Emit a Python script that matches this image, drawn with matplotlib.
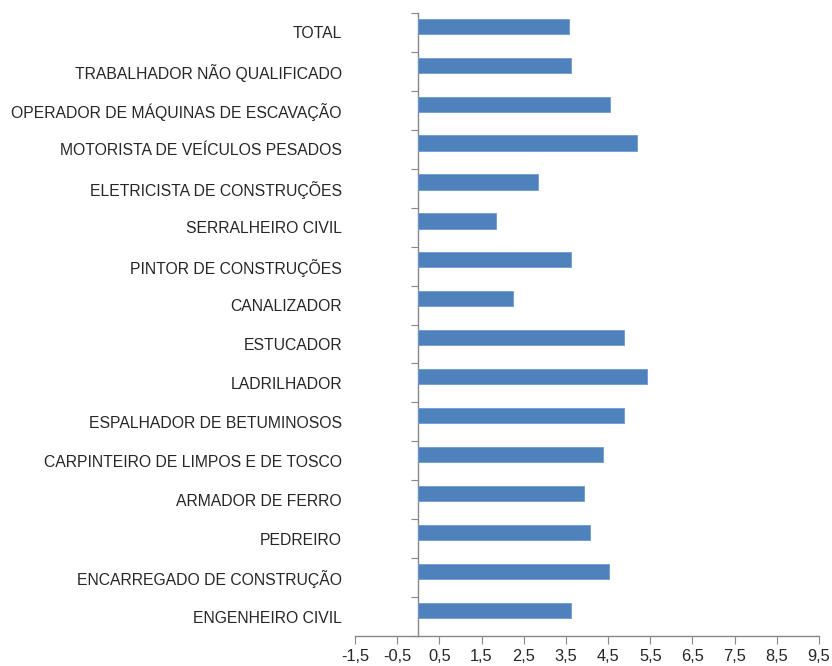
import matplotlib
matplotlib.use("Agg")
import matplotlib.pyplot as plt
import numpy as np

categories = [
    "TOTAL",
    "TRABALHADOR NÃO QUALIFICADO",
    "OPERADOR DE MÁQUINAS DE ESCAVAÇÃO",
    "MOTORISTA DE VEÍCULOS PESADOS",
    "ELETRICISTA DE CONSTRUÇÕES",
    "SERRALHEIRO CIVIL",
    "PINTOR DE CONSTRUÇÕES",
    "CANALIZADOR",
    "ESTUCADOR",
    "LADRILHADOR",
    "ESPALHADOR DE BETUMINOSOS",
    "CARPINTEIRO DE LIMPOS E DE TOSCO",
    "ARMADOR DE FERRO",
    "PEDREIRO",
    "ENCARREGADO DE CONSTRUÇÃO",
    "ENGENHEIRO CIVIL",
]
values = [3.58, 3.63, 4.54, 5.18, 2.84, 1.85, 3.63, 2.25,
          4.87, 5.42, 4.87, 4.37, 3.93, 4.08, 4.51, 3.63]
xticks = [-1.5, -0.5, 0.5, 1.5, 2.5, 3.5, 4.5, 5.5, 6.5, 7.5, 8.5, 9.5]
xtick_labels = [f"{v:.1f}".replace(".", ",") for v in xticks]

plt.rcParams['font.family'] = ['Liberation Sans', 'DejaVu Sans']

fig = plt.figure(figsize=(8.32, 6.66), dpi=100)
ax = fig.add_axes([0.4267, 0.045, 0.5577, 0.9355])

n = len(categories)
ypos = np.arange(n)[::-1]
bar_shift = 0.16
ax.barh(ypos + bar_shift, values, height=0.39, color="#4F81BD",
        edgecolor="#6E9AD0", linewidth=0.6, zorder=3)

ax.set_xlim(-1.5, 9.5)
ax.set_ylim(-0.5, n - 0.5)
ax.set_xticks(xticks)
ax.set_xticklabels(xtick_labels, fontsize=11.8, color="#262626")
ax.set_yticks(ypos)
ax.set_yticklabels(categories, fontsize=11.3, color="#262626")
ax.tick_params(axis='y', length=0, pad=9.4)
ax.tick_params(axis='x', direction='out', length=6, color="#888888", pad=3.5)

for s in ['top', 'right', 'left']:
    ax.spines[s].set_visible(False)
ax.spines['bottom'].set_color("#888888")
ax.spines['bottom'].set_linewidth(1.0)

# vertical axis at x = 0 with category boundary ticks
loc0 = (0 - (-1.5)) / (9.5 - (-1.5))
sec = ax.secondary_yaxis(loc0)
sec.set_yticks(np.arange(n + 1) - 0.5)
sec.set_yticklabels([])
sec.tick_params(axis='y', direction='out', length=5, color="#888888")
sec.spines['left'].set_color("#888888")
sec.spines['left'].set_linewidth(1.0)

fig.savefig("out.png", dpi=100, facecolor="white")
